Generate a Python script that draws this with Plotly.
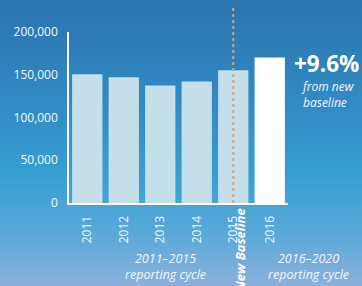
import base64
import plotly.graph_objects as go

years = ["2011", "2012", "2013", "2014", "2015", "2016"]
values = [150500, 147000, 137500, 142000, 155300, 170200]
bar_colors = ["#c4deea", "#c4deea", "#c4deea", "#c4deea", "#c4deea", "#ffffff"]
y_ticks = [0, 50000, 100000, 150000, 200000]
y_tick_text = ["0", "50,000", "100,000", "150,000", "200,000"]
baseline_year = "2015"
change_label = "+9.6%"

W, H = 362, 286
L, R, T, B = 69, 74, 32, 83

svg = f"""<svg xmlns='http://www.w3.org/2000/svg' width='{W}' height='{H}' viewBox='0 0 {W} {H}' preserveAspectRatio='none'>
<defs><linearGradient id='g' x1='0' y1='0' x2='0' y2='1'>
<stop offset='0' stop-color='#2b73af'/>
<stop offset='0.35' stop-color='#318ac3'/>
<stop offset='0.62' stop-color='#37a0d1'/>
<stop offset='0.82' stop-color='#5aa9d9'/>
<stop offset='1' stop-color='#8cb0dd'/>
</linearGradient></defs>
<rect width='{W}' height='{H}' fill='url(#g)'/>
</svg>"""
bg_uri = "data:image/svg+xml;base64," + base64.b64encode(svg.encode()).decode()

pw = W - L - R
ph = H - T - B
def px_x(x):
    return (x - L) / pw
def px_y(y):
    return (H - B - y) / ph

font = "Open Sans, Noto Sans, sans-serif"

fig = go.Figure(go.Bar(
    x=years, y=values, marker=dict(color=bar_colors, line=dict(width=0)),
    hoverinfo="skip",
))

fig.update_layout(
    width=W, height=H,
    margin=dict(l=L, r=R, t=T, b=B, autoexpand=False),
    paper_bgcolor="#318ac3", plot_bgcolor="rgba(0,0,0,0)",
    showlegend=False, bargap=0.17,
    font=dict(family=font, color="#f2f7fb"),
    images=[dict(source=bg_uri, xref="paper", yref="paper",
                 x=px_x(0), y=px_y(0), sizex=W / pw, sizey=H / ph,
                 xanchor="left", yanchor="top", sizing="stretch", layer="below")],
)
fig.update_xaxes(
    type="category", showline=True, linecolor="#ffffff", linewidth=2,
    showgrid=False, tickangle=-90, ticks="outside", ticklen=6, automargin=False,
    tickcolor="rgba(0,0,0,0)", tickfont=dict(size=12, color="#f2f7fb"),
)
fig.update_yaxes(
    range=[0, 200000], showline=True, linecolor="#ffffff", linewidth=1.5,
    showgrid=False, zeroline=False, tickvals=y_ticks, ticktext=y_tick_text,
    ticks="outside", ticklen=7, tickcolor="rgba(0,0,0,0)", automargin=False,
    tickfont=dict(size=12, color="#f2f7fb"),
)

base_idx = years.index(baseline_year)
fig.add_shape(type="line", xref="x", yref="paper", x0=base_idx, x1=base_idx,
              y0=0, y1=px_y(7), line=dict(color="#c9a882", width=2, dash="dot"),
              layer="above")

anns = [
    dict(text="<b>" + change_label + "</b>", x=px_x(326), y=px_y(63), font=dict(size=22.5, color="#ffffff")),
    dict(text="<i>from new<br>baseline</i>", x=px_x(299), y=px_y(94), xanchor="left",
         align="left", font=dict(size=12)),
    dict(text="<i>2011–2015<br>reporting cycle</i>", x=px_x(165), y=px_y(266), font=dict(size=12.5)),
    dict(text="<i>2016–2020<br>reporting cycle</i>", x=px_x(308), y=px_y(266), font=dict(size=12.5)),
    dict(text="<b><i>New Baseline</i></b>", x=px_x(240), y=px_y(250), textangle=-90,
         font=dict(size=13, color="#ffffff")),
]
for a in anns:
    a.setdefault("xanchor", "center")
    fig.add_annotation(xref="paper", yref="paper", showarrow=False, yanchor="middle", **a)

fig.write_html("out.html", config={"displayModeBar": False},
               post_script="document.body.style.margin='0';document.body.style.overflow='hidden';")
